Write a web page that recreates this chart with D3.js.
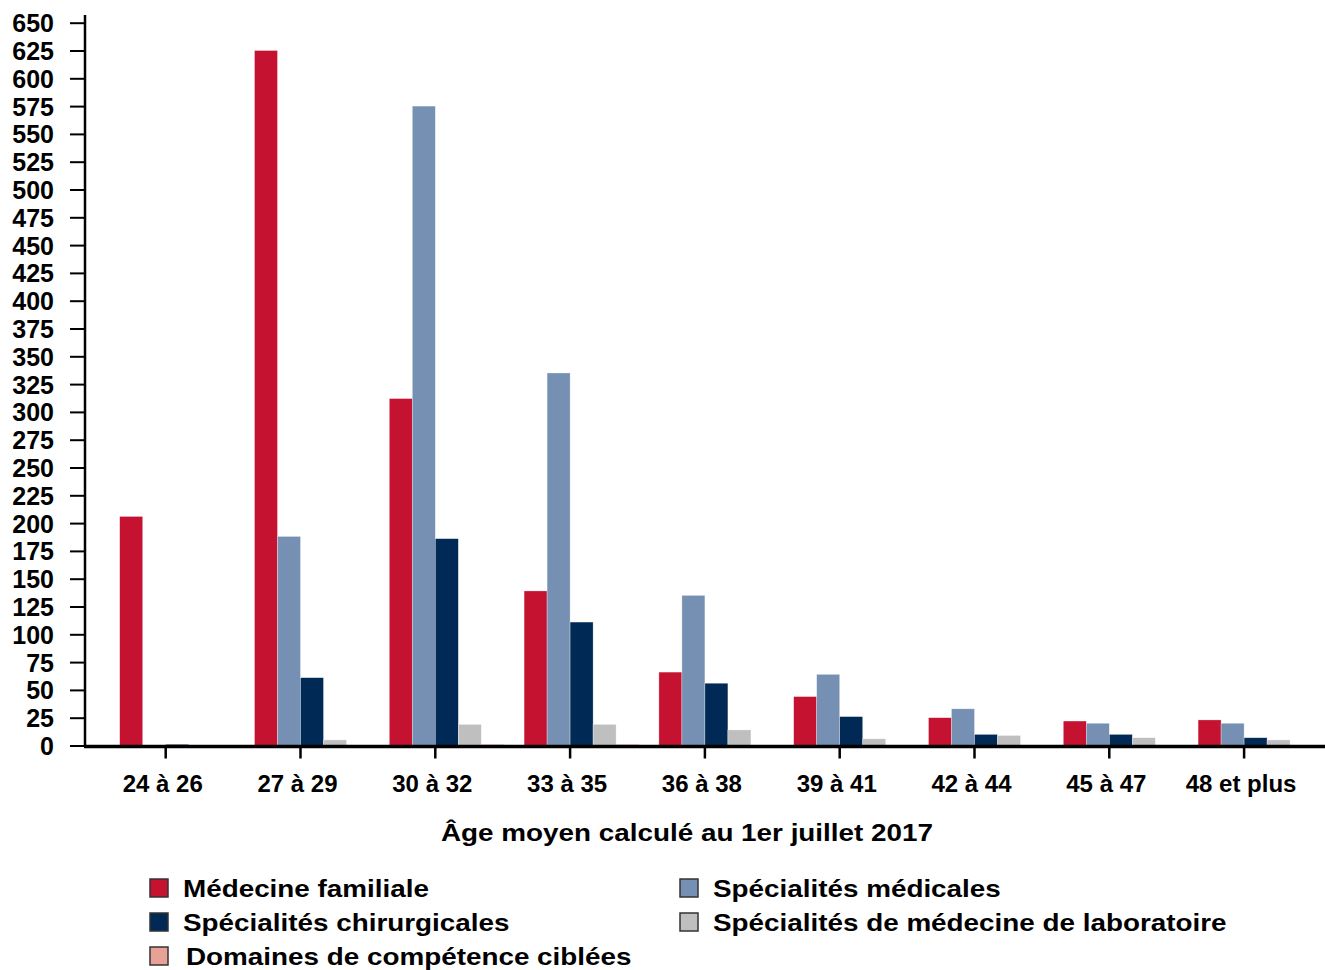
<!DOCTYPE html>
<html>
<head>
<meta charset="utf-8">
<script src="https://cdn.jsdelivr.net/npm/d3@7"></script>
<style>
  body { margin: 0; background: #fff; }
  svg { display: block; font-family: "Liberation Sans", Arial, sans-serif; font-weight: bold; }
</style>
</head>
<body>
<svg id="chart" width="1325" height="970"></svg>
<script>
const categories = ["24 à 26", "27 à 29", "30 à 32", "33 à 35", "36 à 38", "39 à 41", "42 à 44", "45 à 47", "48 et plus"];
const seriesNames = ["Médecine familiale", "Spécialités médicales", "Spécialités chirurgicales", "Spécialités de médecine de laboratoire", "Domaines de compétence ciblées"];
const seriesColors = ["#C41230", "#7590B2", "#002A55", "#BFBFBF", "#E8A195"];
const medecineFamiliale = [206, 625, 312, 139, 66, 44, 25, 22, 23];
const specialitesMedicales = [0, 188, 575, 335, 135, 64, 33, 20, 20];
const specialitesChirurgicales = [1, 61, 186, 111, 56, 26, 10, 10, 7];
const specialitesLaboratoire = [0, 5, 19, 19, 14, 6, 9, 7, 5];
const domainesCompetence = [0, 0, 1, 1, 0, 0, 0, 0, 0];
const yTicks = d3.range(0, 651, 25);
const xTitle = "Âge moyen calculé au 1er juillet 2017";

const seriesValues = [medecineFamiliale, specialitesMedicales, specialitesChirurgicales, specialitesLaboratoire, domainesCompetence];

const svg = d3.select("#chart");
const y0 = 745.5, yTop = 22.7;
const y = d3.scaleLinear().domain([0, 650]).range([y0, yTop]);
const x0 = d3.scaleBand().domain(categories).range([98.3, 1311.5]).padding(0);
const barW = 23;
const x1 = d3.scaleBand().domain(seriesNames).range([0, barW * 5]).padding(0);

// bars
const groups = svg.append("g").selectAll("g").data(categories).join("g")
  .attr("transform", d => `translate(${x0(d) + x0.bandwidth() / 2 - 2 * barW},0)`);
groups.selectAll("rect")
  .data((c, i) => seriesNames.map((s, k) => ({ s, k, v: seriesValues[k][i] })))
  .join("rect")
  .attr("x", d => x1(d.s))
  .attr("width", x1.bandwidth())
  .attr("y", d => y(d.v))
  .attr("height", d => y0 - y(d.v))
  .attr("fill", d => seriesColors[d.k])
  .attr("stroke", "#fff")
  .attr("stroke-opacity", 0.5)
  .attr("stroke-width", 0.6);

// y axis
const yAxis = svg.append("g").attr("transform", "translate(85,0)")
  .call(d3.axisLeft(y).tickValues(yTicks).tickSize(15).tickPadding(16).tickFormat(d3.format("d")));
yAxis.select(".domain").remove();
yAxis.selectAll(".tick line").attr("stroke", "#000").attr("stroke-width", 2);
yAxis.selectAll(".tick text").attr("font-size", 25).attr("fill", "#000")
  .attr("font-family", "'Liberation Sans', Arial, sans-serif").attr("font-weight", "bold").attr("dy", "0.36em");
svg.append("line").attr("x1", 85).attr("x2", 85).attr("y1", 15).attr("y2", y0 + 1).attr("stroke", "#000").attr("stroke-width", 2.5);

// x axis
const xAxis = svg.append("g").attr("transform", `translate(0,${y0 + 1})`)
  .call(d3.axisBottom(x0).tickSize(12).tickPadding(16));
xAxis.select(".domain").remove();
xAxis.selectAll(".tick line").attr("stroke", "#000").attr("stroke-width", 2.5);
xAxis.selectAll(".tick text").attr("font-size", 24).attr("fill", "#000").attr("dx", -3)
  .attr("font-family", "'Liberation Sans', Arial, sans-serif").attr("font-weight", "bold");
svg.append("line").attr("x1", 84).attr("x2", 1325).attr("y1", y0 + 1).attr("y2", y0 + 1).attr("stroke", "#000").attr("stroke-width", 3.5);

// x title
svg.append("text").attr("transform", "translate(687,841) scale(1.16,1)")
  .attr("text-anchor", "middle").attr("font-size", 24).attr("fill", "#000").text(xTitle);

// legend
const legendPos = [[150, 879], [680, 879], [150, 913], [680, 913], [150, 947]];
const leg = svg.append("g").selectAll("g").data(seriesNames).join("g")
  .attr("transform", (d, i) => `translate(${legendPos[i][0]},${legendPos[i][1]})`);
leg.append("rect").attr("width", 18).attr("height", 18)
  .attr("fill", (d, i) => seriesColors[i]).attr("stroke", "#333").attr("stroke-width", 1.5);
leg.append("text").attr("transform", (d, i) => `translate(${i === 4 ? 36 : 33},18) scale(1.16,1)`)
  .attr("font-size", 24).attr("fill", "#000").text(d => d);
</script>
</body>
</html>
